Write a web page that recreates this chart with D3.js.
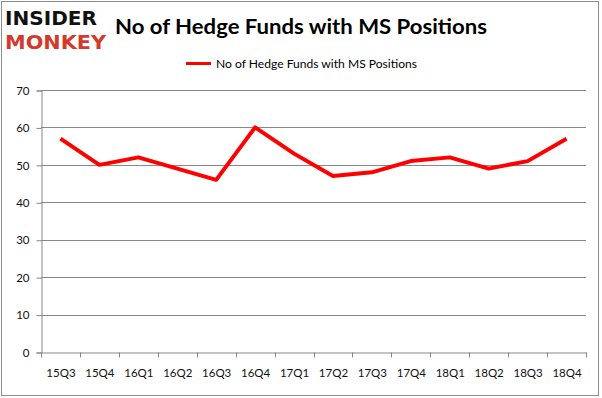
<!DOCTYPE html>
<html>
<head>
<meta charset="utf-8">
<script src="https://cdn.jsdelivr.net/npm/d3@7"></script>
<style>
  body { margin: 0; background: #fff; }
  svg { display: block; }
</style>
</head>
<body>
<svg id="chart" width="602" height="398"></svg>
<script>
var quarters = ['15Q3', '15Q4', '16Q1', '16Q2', '16Q3', '16Q4', '17Q1', '17Q2', '17Q3', '17Q4', '18Q1', '18Q2', '18Q3', '18Q4'];
var fundCounts = [57, 50, 52, 49, 46, 60, 53, 47, 48, 51, 52, 49, 51, 57];
var yTicks = [0, 10, 20, 30, 40, 50, 60, 70];
var seriesName = 'No of Hedge Funds with MS Positions';

var svg = d3.select('#chart');
var font = 'Lato, "Open Sans", sans-serif';

// outer frame
svg.append('rect')
    .attr('x', 1.5).attr('y', 1.5)
    .attr('width', 597).attr('height', 394)
    .attr('fill', '#fff')
    .attr('stroke', '#8c8c8c');

// logo
svg.append('text')
    .attr('x', 5).attr('y', 25)
    .attr('font-family', '"DejaVu Sans", sans-serif')
    .attr('font-weight', 'bold')
    .attr('font-size', 20)
    .attr('textLength', 92).attr('lengthAdjust', 'spacingAndGlyphs')
    .attr('fill', '#111')
    .text('INSIDER');
svg.append('text')
    .attr('x', 5).attr('y', 49)
    .attr('font-family', '"DejaVu Sans", sans-serif')
    .attr('font-weight', 'bold')
    .attr('font-size', 20)
    .attr('textLength', 101).attr('lengthAdjust', 'spacingAndGlyphs')
    .attr('fill', '#d33a2c')
    .text('MONKEY');

// title
svg.append('text')
    .attr('x', 301).attr('y', 34)
    .attr('text-anchor', 'middle')
    .attr('font-family', font)
    .attr('font-weight', 'bold')
    .attr('font-size', 21)
    .attr('textLength', 372).attr('lengthAdjust', 'spacingAndGlyphs')
    .attr('fill', '#000')
    .text('No of Hedge Funds with MS Positions');

// legend
svg.append('line')
    .attr('x1', 186).attr('x2', 211)
    .attr('y1', 63.5).attr('y2', 63.5)
    .attr('stroke', '#ff0000').attr('stroke-width', 3);
svg.append('text')
    .attr('x', 216).attr('y', 67.5)
    .attr('font-family', font)
    .attr('font-size', 11.5)
    .attr('textLength', 201).attr('lengthAdjust', 'spacingAndGlyphs')
    .attr('fill', '#000')
    .text(seriesName);

var margin = { left: 41, right: 586, top: 90, bottom: 352 };

var x = d3.scaleBand()
    .domain(quarters)
    .range([margin.left, margin.right]);

var y = d3.scaleLinear()
    .domain([0, 70])
    .range([margin.bottom, margin.top]);

// gridlines
svg.append('g')
    .selectAll('line')
    .data(yTicks.filter(function (d) { return d > 0; }))
    .enter().append('line')
    .attr('x1', margin.left).attr('x2', margin.right)
    .attr('y1', function (d) { return Math.round(y(d)) + 0.5; })
    .attr('y2', function (d) { return Math.round(y(d)) + 0.5; })
    .attr('stroke', '#878787');

// y axis
var yAxis = svg.append('g')
    .attr('transform', 'translate(' + (margin.left + 0.5) + ',0.5)')
    .call(d3.axisLeft(y).tickValues(yTicks).tickSize(5).tickPadding(7));
yAxis.select('.domain').attr('stroke', '#878787');
yAxis.selectAll('.tick line').attr('stroke', '#878787');
yAxis.selectAll('.tick text')
    .attr('font-family', font)
    .attr('font-size', 11.5)
    .attr('fill', '#111');

// x axis
var xAxis = svg.append('g')
    .attr('transform', 'translate(0.5,' + (margin.bottom + 0.5) + ')')
    .call(d3.axisBottom(x).tickSize(0).tickPadding(16));
xAxis.select('.domain').attr('stroke', '#878787');
xAxis.selectAll('.tick text')
    .attr('font-family', font)
    .attr('font-size', 11.5)
    .attr('fill', '#111');
xAxis.selectAll('.boundary')
    .data(d3.range(quarters.length + 1))
    .enter().append('line')
    .attr('class', 'boundary')
    .attr('x1', function (i) { return Math.round(margin.left + i * x.step()); })
    .attr('x2', function (i) { return Math.round(margin.left + i * x.step()); })
    .attr('y1', 0).attr('y2', 5)
    .attr('stroke', '#878787');

// series line
var line = d3.line()
    .x(function (d, i) { return x(quarters[i]) + x.bandwidth() / 2; })
    .y(function (d) { return y(d); });

svg.append('path')
    .datum(fundCounts)
    .attr('d', line)
    .attr('fill', 'none')
    .attr('stroke', '#ff0000')
    .attr('stroke-width', 4)
    .attr('stroke-linejoin', 'round');
</script>
</body>
</html>
